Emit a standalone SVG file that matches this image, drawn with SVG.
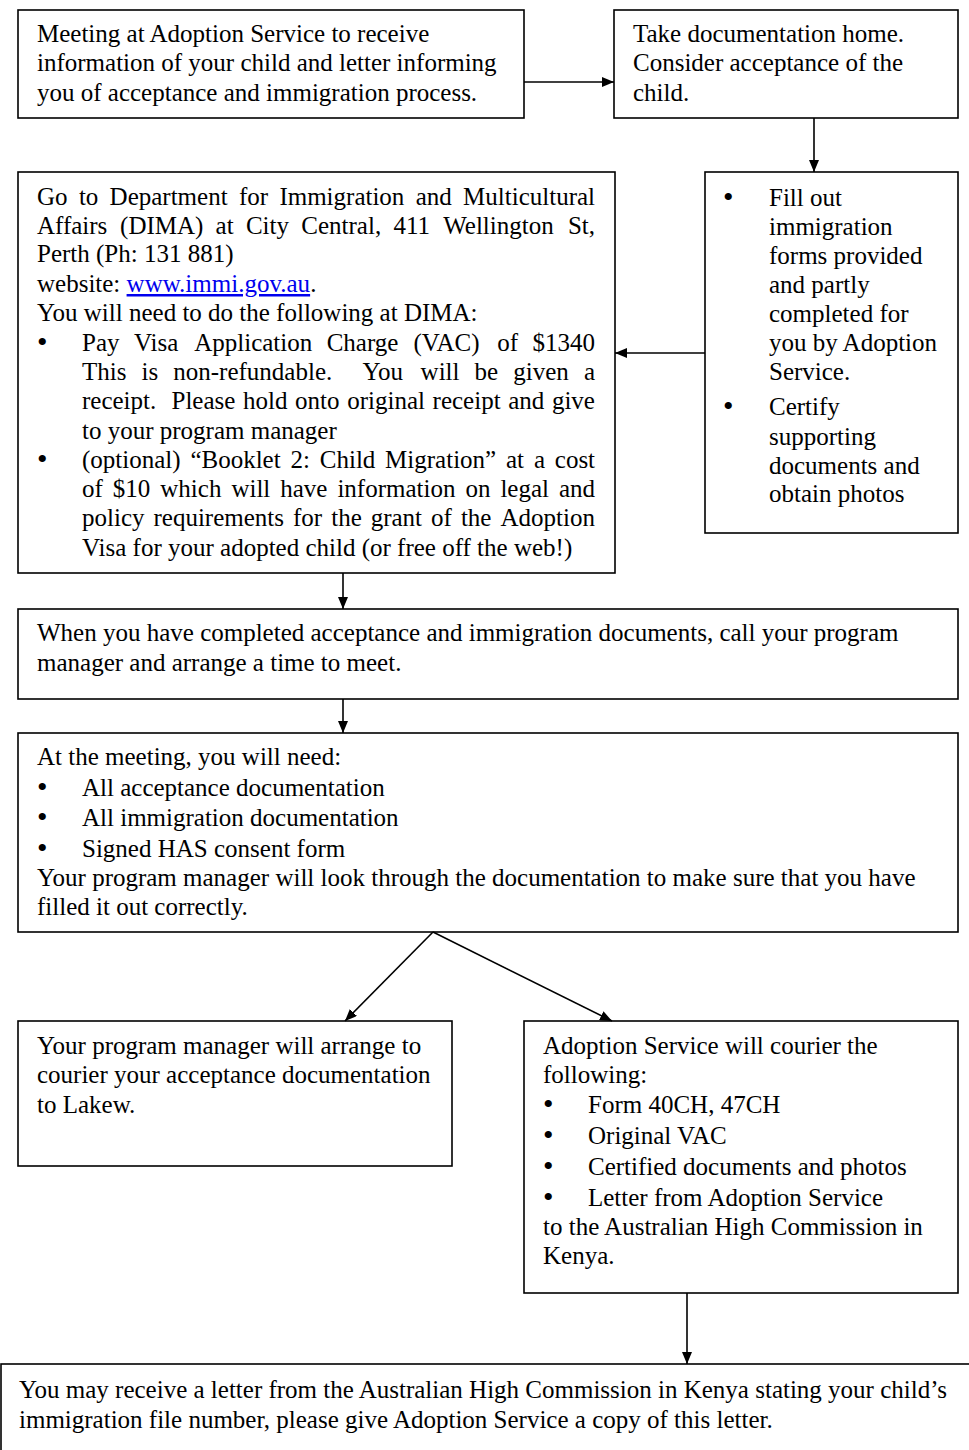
<svg xmlns="http://www.w3.org/2000/svg" width="969" height="1450" viewBox="0 0 969 1450">
<style>
.box{fill:#fff;stroke:#000;stroke-width:1.6}
text{font-family:"Liberation Serif","Times New Roman",serif;font-size:25px;fill:#000}
text.b{font-size:30px}
.link{fill:#0000ee;text-decoration:underline}
.conn line{stroke:#000;stroke-width:1.6}
</style>
<defs>
<marker id="ah" viewBox="0 0 12 10" refX="12" refY="5" markerWidth="12" markerHeight="10" markerUnits="userSpaceOnUse" orient="auto">
<path d="M0,0 L12,5 L0,10 z" fill="#000"/>
</marker>
</defs>
<rect width="969" height="1450" fill="#fff"/>

<g id="n1">
<rect class="box" x="18" y="10" width="506" height="108"/>
<text x="37" y="42">Meeting at Adoption Service to receive</text>
<text x="37" y="71">information of your child and letter informing</text>
<text x="37" y="101">you of acceptance and immigration process.</text>
</g>

<g id="n2">
<rect class="box" x="614" y="10" width="344" height="108"/>
<text x="633" y="42">Take documentation home.</text>
<text x="633" y="71">Consider acceptance of the</text>
<text x="633" y="101">child.</text>
</g>

<g id="n3">
<rect class="box" x="18" y="172" width="597" height="401"/>
<text y="205"><tspan x="37">Go</tspan><tspan x="78.9">to</tspan><tspan x="109.6">Department</tspan><tspan x="238.9">for</tspan><tspan x="279.4">Immigration</tspan><tspan x="415.7">and</tspan><tspan x="463.1">Multicultural</tspan></text>
<text y="234"><tspan x="37">Affairs</tspan><tspan x="120.1">(DIMA)</tspan><tspan x="215.6">at</tspan><tspan x="245.9">City</tspan><tspan x="301.3">Central,</tspan><tspan x="393.4">411</tspan><tspan x="443.2">Wellington</tspan><tspan x="567.9">St,</tspan></text>
<text x="37" y="262">Perth (Ph: 131 881)</text>
<text x="37" y="292">website: <tspan class="link">www.immi.gov.au</tspan>.</text>
<text x="37" y="321">You will need to do the following at DIMA:</text>
<text class="b" x="37" y="352">•</text>
<text y="351"><tspan x="82">Pay</tspan><tspan x="134">Visa</tspan><tspan x="194.2">Application</tspan><tspan x="326.7">Charge</tspan><tspan x="413.4">(VAC)</tspan><tspan x="497.2">of</tspan><tspan x="532.5">$1340</tspan></text>
<text y="380"><tspan x="82">This</tspan><tspan x="141.5">is</tspan><tspan x="173.3">non-refundable.</tspan><tspan x="362.5">You</tspan><tspan x="420.6">will</tspan><tspan x="474.6">be</tspan><tspan x="513.3">given</tspan><tspan x="583.9">a</tspan></text>
<text y="409"><tspan x="82">receipt.</tspan><tspan x="171.5">Please</tspan><tspan x="243">hold</tspan><tspan x="295.1">onto</tspan><tspan x="347.2">original</tspan><tspan x="432.6">receipt</tspan><tspan x="508.2">and</tspan><tspan x="551.9">give</tspan></text>
<text x="82" y="439">to your program manager</text>
<text class="b" x="37" y="469">•</text>
<text y="468"><tspan x="82">(optional)</tspan><tspan x="190.4">“Booklet</tspan><tspan x="290.5">2:</tspan><tspan x="319.8">Child</tspan><tspan x="385.1">Migration”</tspan><tspan x="506">at</tspan><tspan x="533.9">a</tspan><tspan x="554.8">cost</tspan></text>
<text y="497"><tspan x="82">of</tspan><tspan x="112.8">$10</tspan><tspan x="160.3">which</tspan><tspan x="231.4">will</tspan><tspan x="280.2">have</tspan><tspan x="337.4">information</tspan><tspan x="465.4">on</tspan><tspan x="500.4">legal</tspan><tspan x="559">and</tspan></text>
<text y="526"><tspan x="82">policy</tspan><tspan x="153.5">requirements</tspan><tspan x="293">for</tspan><tspan x="331.2">the</tspan><tspan x="370.7">grant</tspan><tspan x="431.1">of</tspan><tspan x="460.9">the</tspan><tspan x="500.5">Adoption</tspan></text>
<text x="82" y="556">Visa for your adopted child (or free off the web!)</text>
</g>

<g id="n4">
<rect class="box" x="705" y="172" width="253" height="361"/>
<text class="b" x="723" y="207">•</text>
<text x="769" y="206">Fill out</text>
<text x="769" y="235">immigration</text>
<text x="769" y="264">forms provided</text>
<text x="769" y="293">and partly</text>
<text x="769" y="322">completed for</text>
<text x="769" y="351">you by Adoption</text>
<text x="769" y="380">Service.</text>
<text class="b" x="723" y="416">•</text>
<text x="769" y="415">Certify</text>
<text x="769" y="445">supporting</text>
<text x="769" y="474">documents and</text>
<text x="769" y="502">obtain photos</text>
</g>

<g id="n5">
<rect class="box" x="18" y="609" width="940" height="90"/>
<text x="37" y="641">When you have completed acceptance and immigration documents, call your program</text>
<text x="37" y="671">manager and arrange a time to meet.</text>
</g>

<g id="n6">
<rect class="box" x="18" y="733" width="940" height="199"/>
<text x="37" y="765">At the meeting, you will need:</text>
<text class="b" x="37" y="797">•</text>
<text x="82" y="796">All acceptance documentation</text>
<text class="b" x="37" y="827">•</text>
<text x="82" y="826">All immigration documentation</text>
<text class="b" x="37" y="858">•</text>
<text x="82" y="857">Signed HAS consent form</text>
<text x="37" y="886">Your program manager will look through the documentation to make sure that you have</text>
<text x="37" y="915">filled it out correctly.</text>
</g>

<g id="n7">
<rect class="box" x="18" y="1021" width="434" height="145"/>
<text x="37" y="1054">Your program manager will arrange to</text>
<text x="37" y="1083">courier your acceptance documentation</text>
<text x="37" y="1113">to Lakew.</text>
</g>

<g id="n8">
<rect class="box" x="524" y="1021" width="434" height="272"/>
<text x="543" y="1054">Adoption Service will courier the</text>
<text x="543" y="1083">following:</text>
<text class="b" x="543" y="1114">•</text>
<text x="588" y="1113">Form 40CH, 47CH</text>
<text class="b" x="543" y="1145">•</text>
<text x="588" y="1144">Original VAC</text>
<text class="b" x="543" y="1176">•</text>
<text x="588" y="1175">Certified documents and photos</text>
<text class="b" x="543" y="1207">•</text>
<text x="588" y="1206">Letter from Adoption Service</text>
<text x="543" y="1235">to the Australian High Commission in</text>
<text x="543" y="1264">Kenya.</text>
</g>

<g id="n9">
<rect class="box" x="1" y="1364" width="990" height="120"/>
<text x="19" y="1398">You may receive a letter from the Australian High Commission in Kenya stating your child’s</text>
<text x="19" y="1428">immigration file number, please give Adoption Service a copy of this letter.</text>
</g>

<g class="conn" id="connectors">
<line x1="524" y1="82" x2="614" y2="82" marker-end="url(#ah)"/>
<line x1="814" y1="118" x2="814" y2="172" marker-end="url(#ah)"/>
<line x1="705" y1="353" x2="615" y2="353" marker-end="url(#ah)"/>
<line x1="343" y1="573" x2="343" y2="609" marker-end="url(#ah)"/>
<line x1="343" y1="699" x2="343" y2="733" marker-end="url(#ah)"/>
<line x1="433" y1="932" x2="345" y2="1021" marker-end="url(#ah)"/>
<line x1="433" y1="932" x2="612" y2="1021" marker-end="url(#ah)"/>
<line x1="687" y1="1293" x2="687" y2="1364" marker-end="url(#ah)"/>
</g>
</svg>
